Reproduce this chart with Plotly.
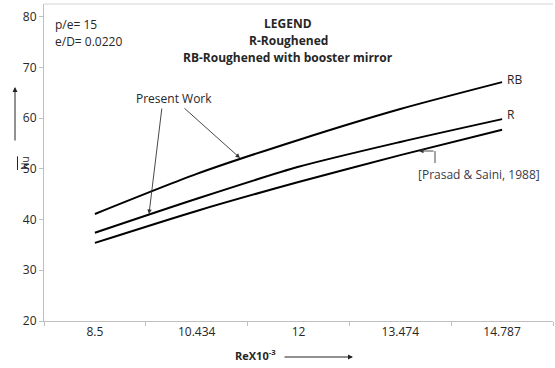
import plotly.graph_objects as go

# ---- data ----
re_labels = ["8.5", "10.434", "12", "13.474", "14.787"]
nu_rb = [41.1, 49.0, 55.7, 61.8, 67.1]       # RB - Roughened with booster mirror (present work)
nu_r = [37.4, 44.1, 50.4, 55.3, 59.8]        # R - Roughened (present work)
nu_prasad = [35.4, 41.7, 47.4, 52.7, 57.7]   # Prasad & Saini, 1988
y_ticks = [20, 30, 40, 50, 60, 70, 80]

W, H = 555, 368
ML, MR, MT, MB = 44, 2, 4, 47
PW, PH = W - ML - MR, H - MT - MB
Y0, Y1 = 20, 82.5

def X(px):
    return (px - ML) / PW * 5 - 0.5

def Y(py):
    return Y0 + (MT + PH - py) / PH * (Y1 - Y0)

def PXp(px):
    return (px - ML) / PW

def PYp(py):
    return (MT + PH - py) / PH

FONT = "Open Sans"
TXT = "#262626"

fig = go.Figure()
for ys in (nu_rb, nu_r, nu_prasad):
    fig.add_trace(go.Scatter(x=re_labels, y=ys, mode="lines",
                             line=dict(color="black", width=2, shape="spline", smoothing=0.7),
                             showlegend=False, hoverinfo="skip"))

ann = []
def txt(px, py, t, size=12, bold=False, xanchor="center", color=TXT, ref="data"):
    if bold:
        t = "<b>" + t + "</b>"
    if ref == "data":
        ann.append(dict(x=X(px), y=Y(py), xref="x", yref="y", text=t, showarrow=False,
                        xanchor=xanchor, yanchor="middle", font=dict(size=size, color=color, family=FONT)))
    else:
        ann.append(dict(x=PXp(px), y=PYp(py), xref="paper", yref="paper", text=t, showarrow=False,
                        xanchor=xanchor, yanchor="middle", font=dict(size=size, color=color, family=FONT)))

def arrow(hx, hy, tx, ty, color="#333333", width=0.9, head=2, ref="data"):
    d = dict(text="", showarrow=True, arrowhead=head, arrowsize=1, arrowwidth=width,
             arrowcolor=color, ax=tx - hx, ay=ty - hy, standoff=0, startstandoff=0)
    if ref == "data":
        d.update(x=X(hx), y=Y(hy), xref="x", yref="y")
    else:
        d.update(x=PXp(hx), y=PYp(hy), xref="paper", yref="paper")
    ann.append(d)

txt(53, 24, "p/e= 15", xanchor="left")
txt(53, 41, "e/D= 0.0220", xanchor="left")
txt(288, 23, "LEGEND", bold=True)
txt(288, 40, "R-Roughened", bold=True)
txt(288, 57, "RB-Roughened with booster mirror", bold=True)
txt(174, 98, "Present Work")
arrow(149, 214, 162, 107)
arrow(240, 158, 183, 107)
txt(505, 79, "RB", xanchor="left")
txt(505, 114, "R", xanchor="left")
txt(479, 174, "[Prasad &amp; Saini, 1988]", color="#3a3a4a")
arrow(419, 151, 435, 151)
txt(255, 355, "ReX10<sup>-3</sup>", size=11, bold=True, ref="paper")
arrow(353, 357, 283, 357, color="#222222", width=1, ref="paper")
arrow(15, 87, 15, 142, color="#222222", width=1, ref="paper")
ann.append(dict(x=PXp(16), y=PYp(163), xref="paper", yref="paper", showarrow=False,
                text='<span style="text-decoration:overline">Nu</span>', textangle=-90,
                font=dict(size=10, color=TXT, family=FONT)))

shapes = [
    dict(type="line", xref="paper", yref="paper", x0=0, x1=1, y0=1, y1=1,
         line=dict(color="#d4d4d4", width=1)),
    dict(type="line", xref="x", yref="y", x0=X(435), x1=X(435), y0=Y(151), y1=Y(163),
         line=dict(color="#333333", width=0.9)),
]

fig.update_layout(
    width=W, height=H, margin=dict(l=ML, r=MR, t=MT, b=MB),
    paper_bgcolor="white", plot_bgcolor="white",
    font=dict(family=FONT, size=12, color=TXT),
    annotations=ann, shapes=shapes,
    xaxis=dict(type="category", range=[-0.5, 4.5], showgrid=False, zeroline=False,
               showline=True, linecolor="#bfbfbf", linewidth=1,
               ticks="outside", ticklen=4, tickcolor="#bfbfbf", tickson="boundaries",
               tickfont=dict(size=12, color=TXT, family=FONT)),
    yaxis=dict(range=[Y0, Y1], tickvals=y_ticks, showgrid=False, zeroline=False,
               showline=True, linecolor="#bfbfbf", linewidth=1,
               ticks="outside", ticklen=4, tickcolor="#bfbfbf",
               tickfont=dict(size=12, color=TXT, family=FONT)),
)

fig.write_html("out.html", config={"displayModeBar": False},
               post_script="document.body.style.margin='0';document.body.style.padding='0';")
